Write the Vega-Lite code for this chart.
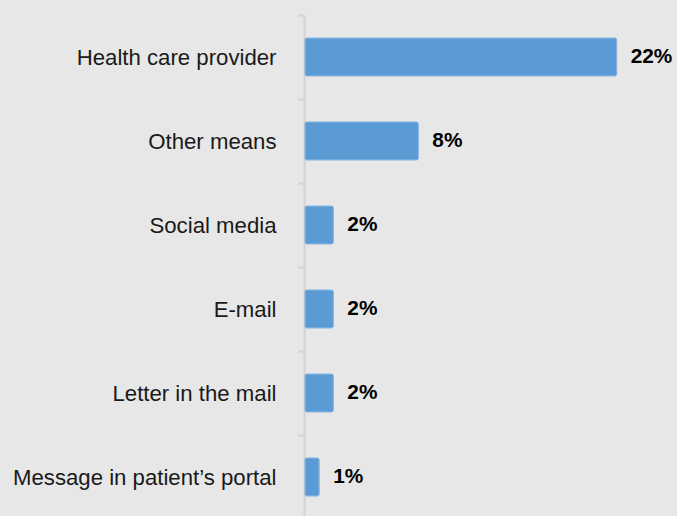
{
  "$schema": "https://vega.github.io/schema/vega-lite/v6.json",
  "width": 340,
  "height": 504,
  "autosize": "none",
  "padding": {"left": 305, "top": 15, "right": 32, "bottom": 0},
  "background": "#e7e7e7",
  "config": {"view": {"stroke": null}, "font": "Liberation Sans"},
  "data": {
    "values": [
      {"channel": "Health care provider", "pct": 0.22},
      {"channel": "Other means", "pct": 0.08},
      {"channel": "Social media", "pct": 0.02},
      {"channel": "E-mail", "pct": 0.02},
      {"channel": "Letter in the mail", "pct": 0.02},
      {"channel": "Message in patient’s portal", "pct": 0.01}
    ]
  },
  "encoding": {
    "y": {
      "field": "channel",
      "type": "nominal",
      "sort": null,
      "scale": {"paddingInner": 0, "paddingOuter": 0},
      "axis": {
        "title": null,
        "tickBand": "extent",
        "domainColor": "#d3d3d3",
        "domainWidth": 2,
        "tickColor": "#d3d3d3",
        "tickWidth": 2,
        "tickSize": 6,
        "labelPadding": 22,
        "labelFontSize": 22.2,
        "labelLimit": 400,
        "labelColor": "#1a1a1a",
        "labelFont": "Liberation Sans",
        "offset": 1
      }
    },
    "x": {
      "field": "pct",
      "type": "quantitative",
      "scale": {"domain": [0, 0.24]},
      "axis": null
    }
  },
  "layer": [
    {
      "mark": {"type": "bar", "color": "#5b9bd5", "height": {"band": 0.452}, "cornerRadius": 2, "stroke": "#7fb0df", "strokeWidth": 1}
    },
    {
      "mark": {"type": "text", "align": "left", "dx": 14, "fontSize": 20.8, "fontWeight": "bold", "color": "#000000", "font": "Liberation Sans"},
      "encoding": {"text": {"field": "pct", "type": "quantitative", "format": ".0%"}}
    }
  ]
}
